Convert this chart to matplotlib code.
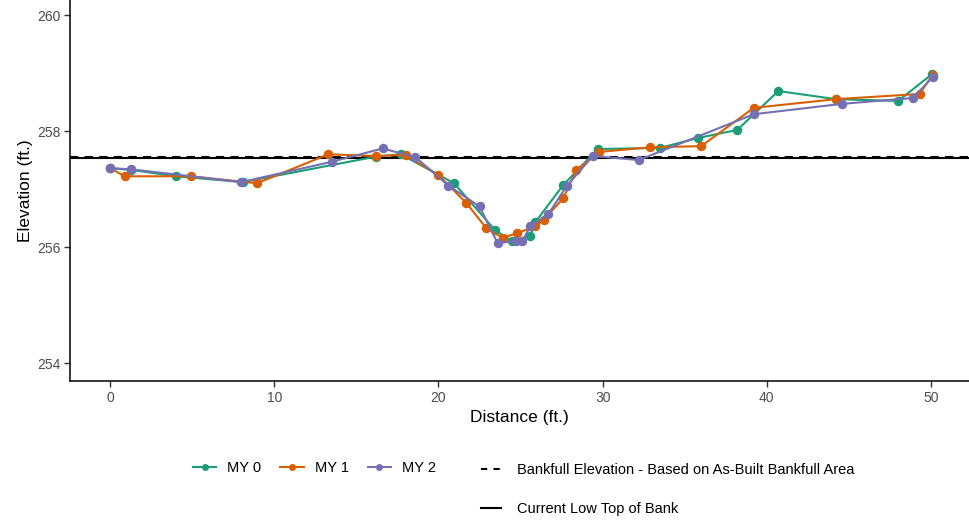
import matplotlib
matplotlib.use("Agg")
import matplotlib.pyplot as plt
from matplotlib.lines import Line2D

plt.rcParams['font.family'] = ['Liberation Sans', 'DejaVu Sans']

# MY 0
my0_x = [0.0, 1.3, 4.0, 8.1, 16.2, 17.7, 20.95, 23.45, 24.5, 25.6, 25.9, 27.6, 29.7, 33.5, 35.8, 38.2, 40.7, 44.2, 48.0, 50.05]
my0_y = [257.36, 257.33, 257.22, 257.12, 257.56, 257.60, 257.10, 256.29, 256.10, 256.19, 256.43, 257.07, 257.69, 257.71, 257.88, 258.02, 258.69, 258.55, 258.52, 258.98]
# MY 1
my1_x = [0.0, 0.9, 4.9, 8.95, 13.3, 16.2, 18.0, 20.0, 21.7, 22.9, 23.9, 24.8, 25.9, 26.4, 27.6, 28.4, 29.8, 32.9, 36.0, 39.2, 44.2, 49.3, 50.1]
my1_y = [257.36, 257.22, 257.22, 257.10, 257.60, 257.57, 257.59, 257.24, 256.76, 256.33, 256.16, 256.24, 256.36, 256.47, 256.84, 257.33, 257.64, 257.72, 257.74, 258.40, 258.55, 258.64, 258.97]
# MY 2
my2_x = [0.0, 1.3, 8.0, 13.5, 16.6, 18.6, 20.6, 22.5, 23.6, 24.7, 25.1, 25.6, 26.7, 27.8, 29.4, 32.2, 39.2, 44.6, 48.9, 50.1]
my2_y = [257.36, 257.34, 257.12, 257.47, 257.70, 257.55, 257.06, 256.70, 256.07, 256.10, 256.10, 256.36, 256.57, 257.05, 257.57, 257.50, 258.29, 258.47, 258.57, 258.93]

series_names = ["MY 0", "MY 1", "MY 2"]
colors = ["#1B9E77", "#D95F02", "#7570B3"]
bankfull_elev = 257.56
low_top_bank = 257.53

x_ticks = [0, 10, 20, 30, 40, 50]
y_ticks = [254, 256, 258, 260]

fig = plt.figure(figsize=(9.69, 5.21), dpi=100)
ax = fig.add_axes([70/969, (521-381)/521, (969-70)/969, 381/521])

ax.axhline(bankfull_elev, color='black', linestyle=(0, (4, 3)), linewidth=1.5, zorder=1)
ax.axhline(low_top_bank, color='black', linestyle='-', linewidth=1.5, zorder=1)

for xs, ys, c, n in zip([my0_x, my1_x, my2_x], [my0_y, my1_y, my2_y], colors, series_names):
    ax.plot(xs, ys, color=c, linewidth=1.5, marker='o', markersize=5.8, label=n, zorder=3)

ax.set_xlim(-2.44, 52.31)
ax.set_ylim(253.69, 260.26)
ax.set_xticks(x_ticks)
ax.set_yticks(y_ticks)
for s in ['top', 'right']:
    ax.spines[s].set_visible(False)
for s in ['left', 'bottom']:
    ax.spines[s].set_linewidth(1.1)
ax.tick_params(axis='both', length=4, width=1, color='#333333', labelcolor='#4D4D4D', labelsize=10, pad=3)
ax.set_xlabel("Distance (ft.)", fontsize=12.5, labelpad=4)
ax.set_ylabel("Elevation (ft.)", fontsize=12.5, labelpad=3)

h1 = [Line2D([], [], color=c, linewidth=1.5, marker='o', markersize=4) for c in colors]
leg1 = fig.legend(h1, series_names, loc='center left', bbox_to_anchor=(193/969, 1 - 468/521),
                  ncol=3, frameon=False, fontsize=10.5, handlelength=1.6, handletextpad=0.75,
                  columnspacing=1.3, borderpad=0, borderaxespad=0)
h2 = [Line2D([], [], color='black', linewidth=1.5, linestyle=(0, (3, 3))),
      Line2D([], [], color='black', linewidth=1.5, linestyle='-')]
leg2 = fig.legend(h2, ["Bankfull Elevation - Based on As-Built Bankfull Area", "Current Low Top of Bank"],
                  loc='upper left', bbox_to_anchor=(481/969, 1 - 463/521), frameon=False, fontsize=10.5,
                  handlelength=1.4, handletextpad=1.1, labelspacing=1.72, borderpad=0, borderaxespad=0)

fig.savefig("out.png", dpi=100)
